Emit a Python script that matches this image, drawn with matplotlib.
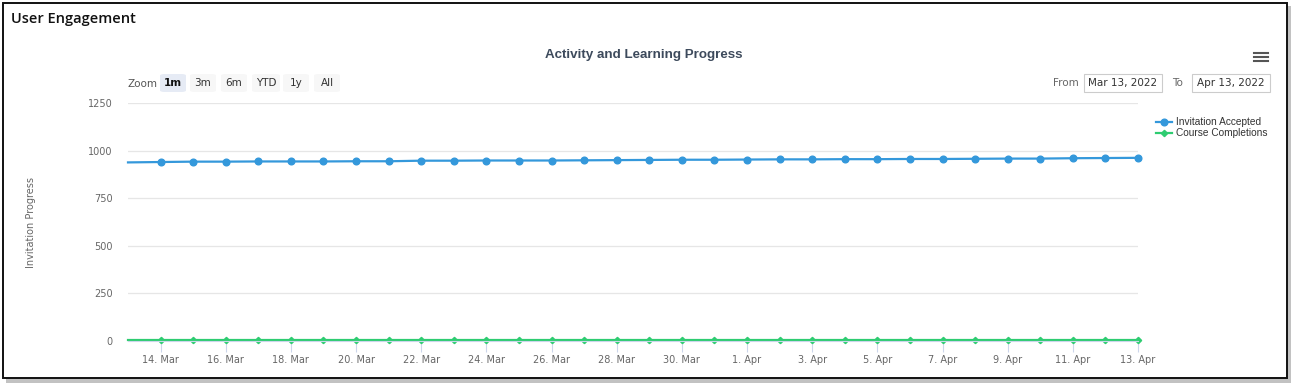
import numpy as np
import pandas as pd
import matplotlib
matplotlib.use("Agg")
import matplotlib.pyplot as plt
from matplotlib.patches import Rectangle, FancyBboxPatch

# data (daily, Mar 13 - Apr 13 2022)
dates = pd.date_range("2022-03-13", "2022-04-13", freq="D")
invitations = [938, 940, 942, 942, 943, 943, 943, 944, 944, 947, 947, 948, 948, 948,
               949, 950, 951, 952, 952, 953, 954, 954, 955, 955, 956, 956, 957, 958,
               958, 960, 961, 962]
completions = [5] * len(dates)
yticks = [0, 250, 500, 750, 1000, 1250]
zoom_buttons = ["1m", "3m", "6m", "YTD", "1y", "All"]

W, H = 1295, 389
fig = plt.figure(figsize=(W / 100, H / 100), dpi=100)

def fx(px):
    return px / W

def fy(py):
    return 1 - py / H

# card frame with shadow
fig.patches.append(Rectangle((fx(6), fy(383)), fx(1285), fy(6) - fy(383),
                             transform=fig.transFigure, facecolor="#9a9a9a",
                             edgecolor="none", alpha=0.6, zorder=0))
fig.patches.append(Rectangle((fx(3), fy(378)), fx(1284), fy(3) - fy(378),
                             transform=fig.transFigure, facecolor="white",
                             edgecolor="#111111", linewidth=1.4, zorder=1))

fig.text(fx(11), fy(19), "User Engagement", fontsize=10.5, color="#111111",
         va="center", ha="left", family="Open Sans", weight="semibold")
fig.text(fx(644), fy(55), "Activity and Learning Progress", fontsize=9.6,
         color="#3d4a5c", va="center", ha="center", weight="bold",
         family="Liberation Sans")

# hamburger menu
for dy in (-4, 0, 4):
    fig.lines.append(plt.Line2D([fx(1254), fx(1268)], [fy(57 + dy)] * 2,
                                transform=fig.transFigure, color="#555555", lw=1.5))

# zoom buttons
fig.text(fx(128), fy(84), "Zoom", fontsize=7.5, color="#555555", va="center")
btn_x = [160, 190, 221, 252, 283, 314]
for i, (lab, x0) in enumerate(zip(zoom_buttons, btn_x)):
    w = 28 if lab == "YTD" else 26
    fig.patches.append(FancyBboxPatch((fx(x0), fy(92)), fx(w), fy(74) - fy(92),
                                      boxstyle="round,pad=0,rounding_size=0.004",
                                      transform=fig.transFigure,
                                      facecolor="#e6ebf5" if i == 0 else "#f7f7f7",
                                      edgecolor="none", zorder=2))
    fig.text(fx(x0 + w / 2), fy(83), lab, fontsize=7.5,
             color="#111111" if i == 0 else "#333333",
             va="center", ha="center", weight="bold" if i == 0 else "normal", zorder=3)

# date range inputs
fig.text(fx(1053), fy(83), "From", fontsize=7.5, color="#666666", va="center")
fig.text(fx(1172), fy(83), "To", fontsize=7.5, color="#666666", va="center")
for x0, txt in ((1084, "Mar 13, 2022"), (1192, "Apr 13, 2022")):
    fig.patches.append(Rectangle((fx(x0), fy(92)), fx(78), fy(74) - fy(92),
                                 transform=fig.transFigure, facecolor="white",
                                 edgecolor="#cccccc", linewidth=0.8, zorder=2))
    fig.text(fx(x0 + 39), fy(83), txt, fontsize=7.5, color="#333333",
             va="center", ha="center", zorder=3)

# plot area
ax = fig.add_axes([fx(128), fy(341), fx(1138) - fx(128), fy(103) - fy(341)])
ax.set_zorder(5)
ax.patch.set_alpha(0)
marks = list(range(1, len(dates)))
ax.plot(dates, invitations, color="#3498db", lw=1.6, marker="o", ms=4.8,
        markevery=marks, label="Invitation Accepted", clip_on=False)
ax.plot(dates, completions, color="#2ecc71", lw=1.6, marker="D", ms=3.2,
        markevery=marks, label="Course Completions", clip_on=False)

ax.set_ylim(0, 1250)
ax.set_yticks(yticks)
ax.set_xlim(dates[0], dates[-1])
ax.grid(axis="y", color="#e6e6e6", lw=0.9)
ax.set_axisbelow(True)
for s in ("top", "right", "left"):
    ax.spines[s].set_visible(False)
ax.spines["bottom"].set_color("#ccd6eb")
ticks = list(dates[1::2])
ax.set_xticks(ticks)
ax.set_xticklabels([f"{d.day}. {d.strftime('%b')}" for d in ticks])
ax.tick_params(axis="x", colors="#666666", labelsize=7, length=8, width=0.8, pad=2)
ax.tick_params(axis="x", color="#ccd6eb")
ax.tick_params(axis="y", colors="#666666", labelsize=7, length=0, pad=11)
ax.set_ylabel("Invitation Progress", fontsize=7, color="#666666")
ax.yaxis.set_label_coords(-0.091, 0.5)

leg = ax.legend(loc="upper left", bbox_to_anchor=(1.014, 0.958), frameon=False,
                prop={"family": "Liberation Sans", "size": 7.3},
                handlelength=1.6, handletextpad=0.4, labelspacing=0.12,
                borderaxespad=0)
for t in leg.get_texts():
    t.set_color("#333333")

fig.savefig("out.png", dpi=100)
